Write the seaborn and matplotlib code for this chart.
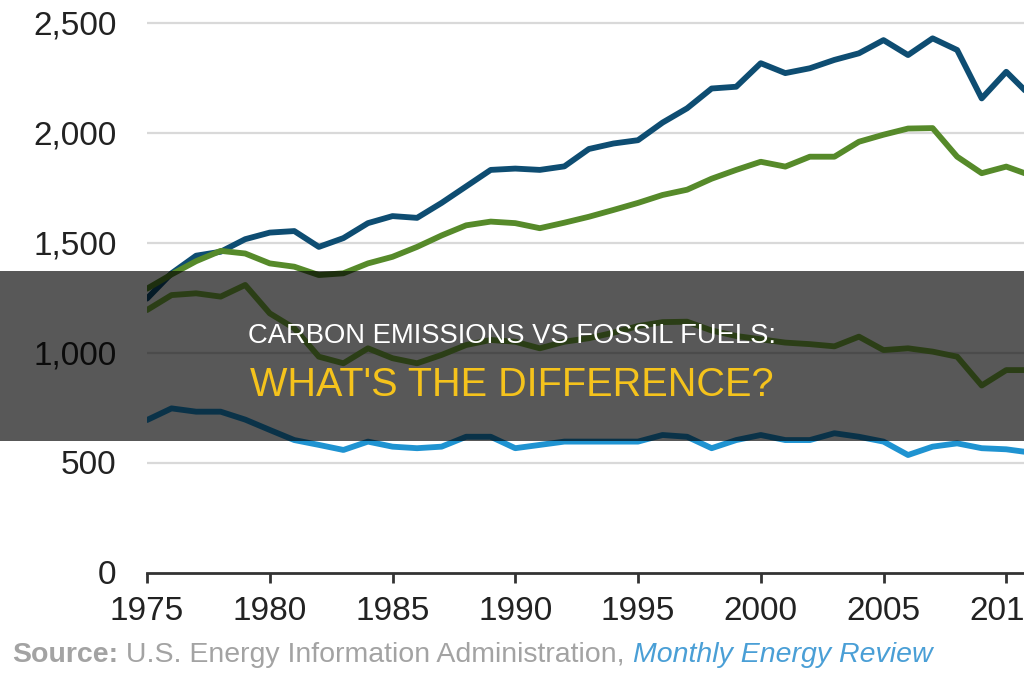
import matplotlib
matplotlib.use("Agg")
import matplotlib.pyplot as plt
from matplotlib.patches import Rectangle
from matplotlib.ticker import FuncFormatter
import seaborn as sns
import pandas as pd

years = list(range(1975, 2012))

electric = [1245, 1360, 1440, 1458, 1515, 1545, 1552, 1480, 1520, 1588,
            1620, 1612, 1680, 1755, 1830, 1836, 1830, 1846, 1925, 1950,
            1965, 2045, 2110, 2200, 2208, 2315, 2270, 2292, 2330, 2360,
            2420, 2352, 2428, 2375, 2155, 2276, 2165]
transport = [1290, 1355, 1415, 1462, 1450, 1405, 1390, 1352, 1360, 1405,
             1435, 1480, 1532, 1578, 1595, 1588, 1565, 1590, 1617, 1648,
             1680, 1716, 1740, 1790, 1830, 1867, 1845, 1890, 1890, 1958,
             1990, 2018, 2020, 1890, 1815, 1845, 1805]
industrial = [1193, 1261, 1269, 1254, 1307, 1178, 1110, 981, 951, 1019,
              974, 951, 989, 1034, 1057, 1049, 1019, 1049, 1065, 1090,
              1120, 1138, 1140, 1100, 1075, 1060, 1045, 1038, 1028, 1072,
              1011, 1019, 1004, 981, 850, 920, 920]
residential = [693, 746, 731, 731, 695, 648, 602, 580, 557, 595,
               572, 565, 572, 617, 617, 565, 580, 595, 595, 595,
               595, 625, 617, 565, 602, 625, 602, 602, 633, 617,
               595, 534, 572, 587, 565, 560, 545]

series = {"Electric power": electric, "Transportation": transport,
          "Industrial": industrial, "Residential": residential}
colors = {"Electric power": "#0e4d72", "Transportation": "#568a2a",
          "Industrial": "#7db441", "Residential": "#1f93d1"}

rows = []
for name, vals in series.items():
    for yr, v in zip(years, vals):
        rows.append({"year": yr, "value": v, "sector": name})
df = pd.DataFrame(rows)

sns.set_theme(style="white")
plt.rcParams['font.family'] = ['Liberation Sans', 'DejaVu Sans']

fig = plt.figure(figsize=(10.24, 6.8), dpi=100)
ax = fig.add_axes([147 / 1024, 107.5 / 680, 1 - 147 / 1024, 572.5 / 680])

sns.lineplot(data=df, x="year", y="value", hue="sector", palette=colors,
             linewidth=4.2, legend=False, ax=ax, zorder=3)

ax.set_xlim(1975, 1975 + (1024 - 147) / 24.55)
ax.set_ylim(0, 572.5 / 0.22)
ax.set_xticks(range(1975, 2015, 5))
ax.set_yticks(range(0, 3000, 500))
ax.yaxis.set_major_formatter(FuncFormatter(lambda v, p: f"{int(v):,}"))
ax.set_xlabel("")
ax.set_ylabel("")

for v in range(500, 3000, 500):
    ax.axhline(v, color="#d9d9d9", linewidth=1.6, zorder=1)

for s in ["top", "right", "left"]:
    ax.spines[s].set_visible(False)
ax.spines["bottom"].set_color("#333333")
ax.spines["bottom"].set_linewidth(2)
ax.spines["bottom"].set_zorder(4)
ax.tick_params(axis="x", direction="out", length=7, width=2, color="#333333",
               pad=10, labelsize=24, labelcolor="#222222", bottom=True)
ax.tick_params(axis="y", length=0, pad=22, labelsize=24, labelcolor="#222222")

# source line
src_y = 0.017
t1 = fig.text(0.012, src_y, "Source:", fontsize=20.5, fontweight="bold",
              color="#a3a3a3", va="bottom")
t2 = fig.text(0, 0, " U.S. Energy Information Administration, ", fontsize=20.5,
              color="#a3a3a3", va="bottom")
t3 = fig.text(0, 0, "Monthly Energy Review", fontsize=20.5, style="italic",
              color="#4a9fd6", va="bottom")
fig.canvas.draw()
r = fig.canvas.get_renderer()
bb = t1.get_window_extent(r)
t2.set_position((bb.x1 / fig.bbox.width, src_y))
bb = t2.get_window_extent(r)
t3.set_position((bb.x1 / fig.bbox.width, src_y))

# dark title banner
fig.add_artist(Rectangle((0, (680 - 441) / 680), 1, 170 / 680,
                         transform=fig.transFigure, facecolor="black",
                         alpha=0.655, edgecolor="none", zorder=10))
fig.text(0.5, (680 - 343.3) / 680, "CARBON EMISSIONS VS FOSSIL FUELS:",
         fontsize=19.7, color="white", ha="center", va="baseline", zorder=11)
fig.text(0.5, (680 - 396) / 680, "WHAT'S THE DIFFERENCE?",
         fontsize=28.5, color="#f5c31c", ha="center", va="baseline", zorder=11)

fig.savefig("out.png", dpi=100)
